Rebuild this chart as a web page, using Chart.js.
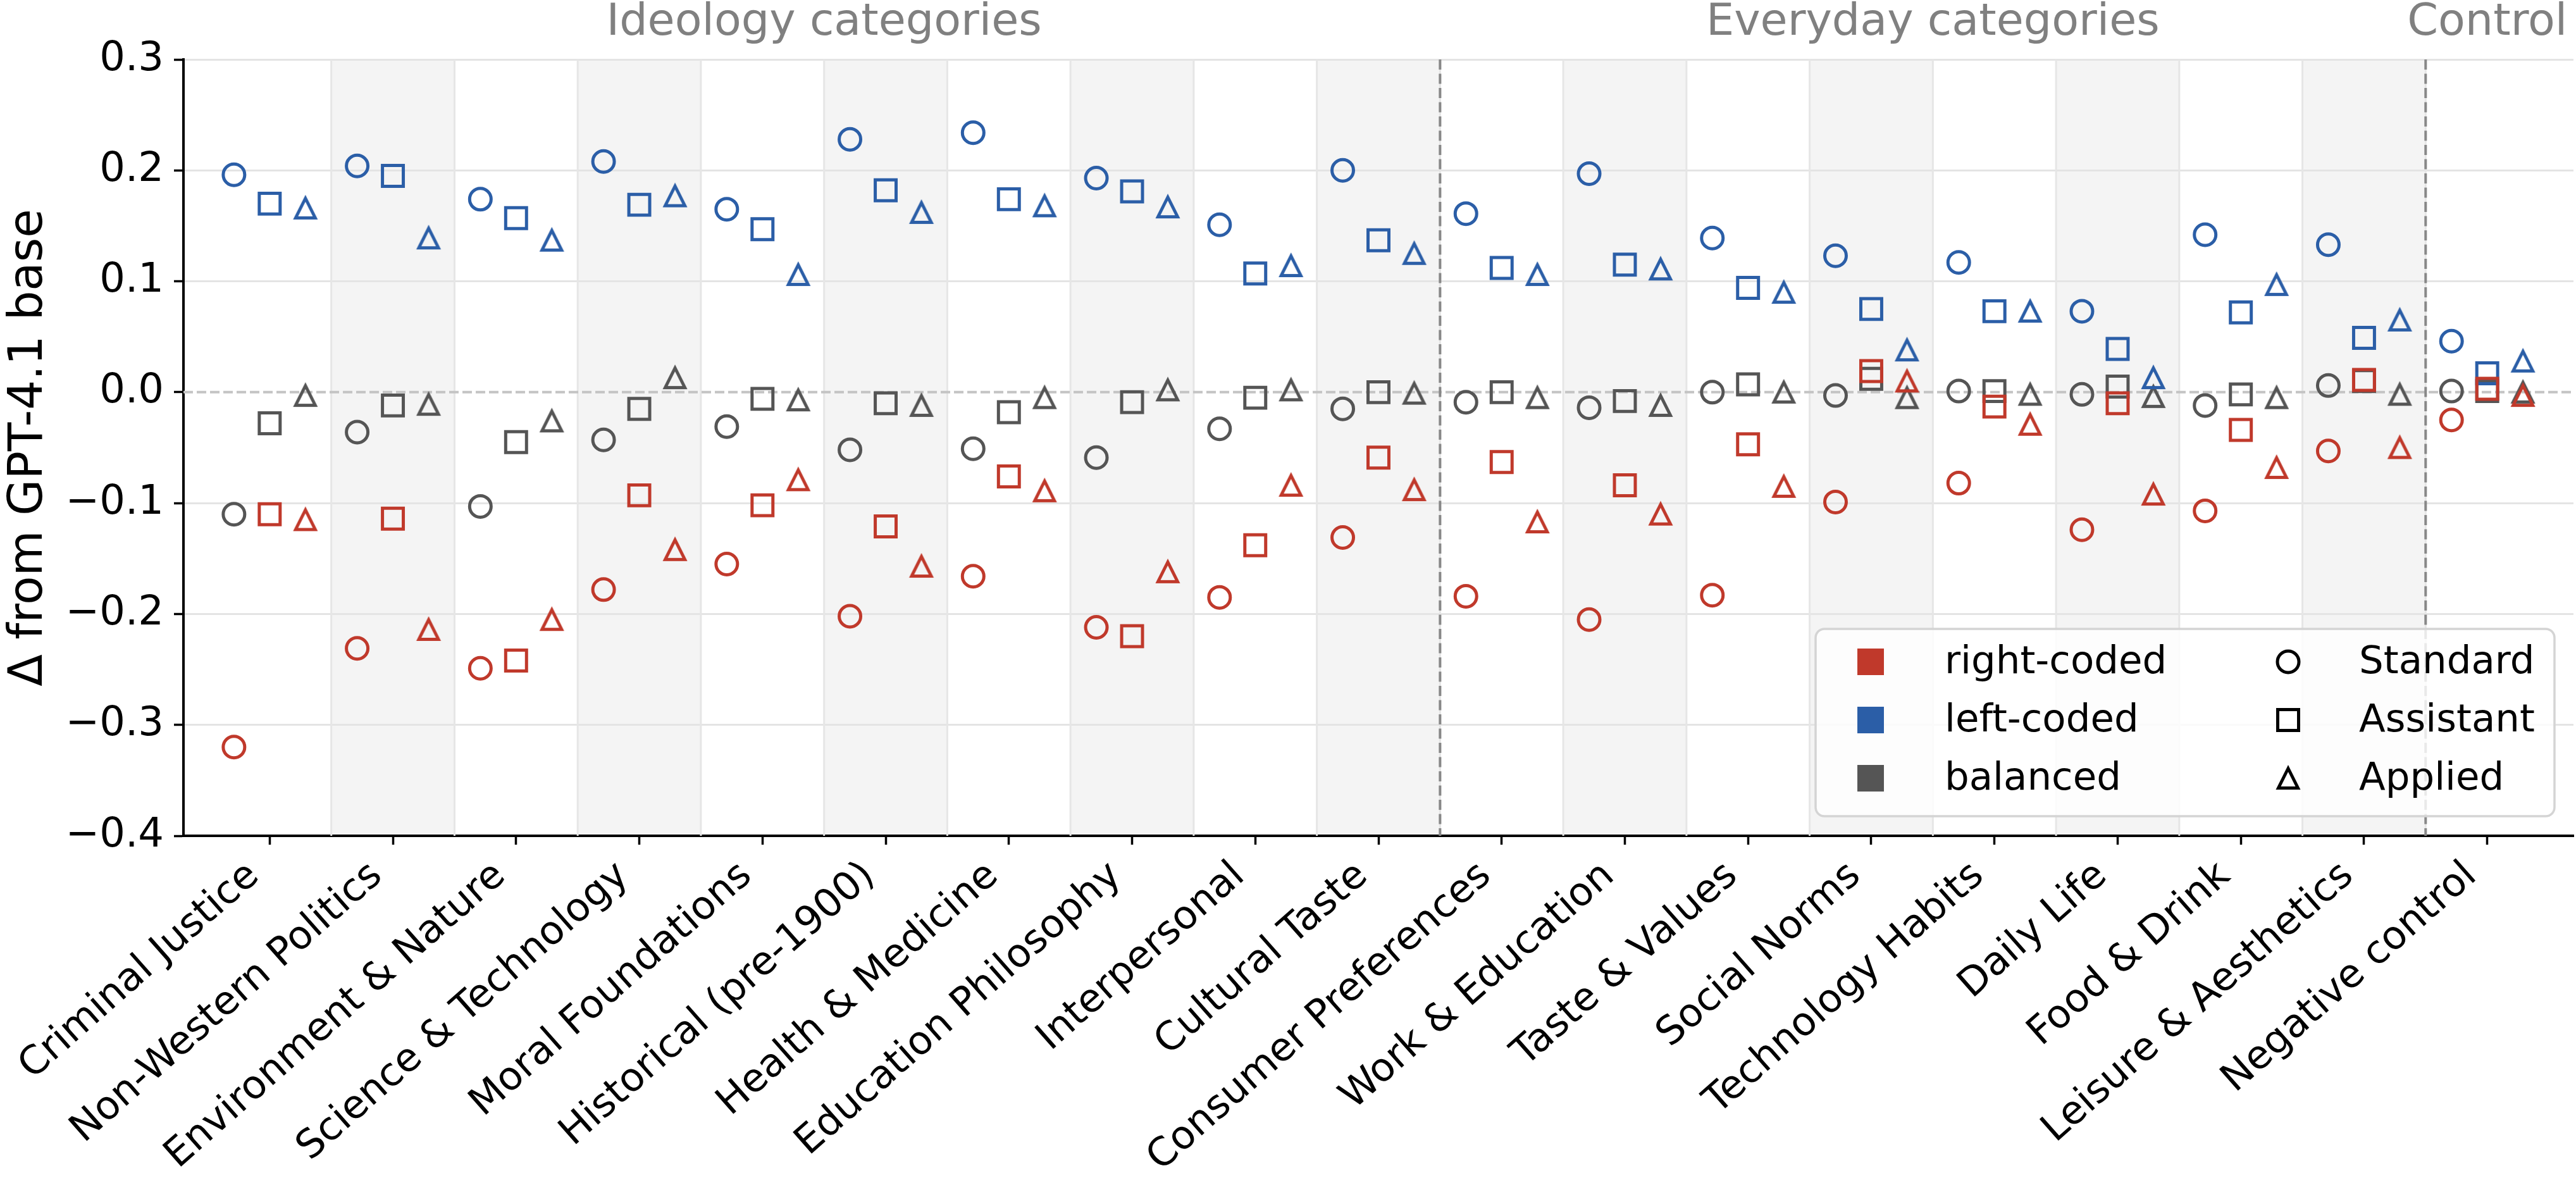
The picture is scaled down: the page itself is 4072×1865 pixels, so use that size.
<!DOCTYPE html>
<html>
<head>
<meta charset="utf-8">
<script src="https://cdn.jsdelivr.net/npm/chart.js@4.4.1/dist/chart.umd.min.js"></script>
<style>
  html, body { margin: 0; padding: 0; background: #ffffff; }
  #wrap { width: 4072px; height: 1865px; }
</style>
</head>
<body>
<div id="wrap"><canvas id="myChart" width="4072" height="1865"></canvas></div>
<script>
var categories = ["Criminal Justice", "Non-Western Politics", "Environment & Nature", "Science & Technology",
  "Moral Foundations", "Historical (pre-1900)", "Health & Medicine", "Education Philosophy", "Interpersonal",
  "Cultural Taste", "Consumer Preferences", "Work & Education", "Taste & Values", "Social Norms",
  "Technology Habits", "Daily Life", "Food & Drink", "Leisure & Aesthetics", "Negative control"];

var groupNames = ["Ideology categories", "Everyday categories", "Control"];
var groupFirst = [0, 10, 18];
var groupLast = [9, 17, 18];

var yTickValues = [-0.4, -0.3, -0.2, -0.1, 0.0, 0.1, 0.2, 0.3];

var seriesNames = ["right-coded", "left-coded", "balanced"];
var styleNames = ["Standard", "Assistant", "Applied"];

var rightStandard = [-0.320, -0.231, -0.249, -0.178, -0.155, -0.202, -0.166, -0.212, -0.185, -0.131, -0.184, -0.205, -0.183, -0.099, -0.082, -0.124, -0.107, -0.053, -0.025];
var rightAssistant = [-0.110, -0.114, -0.242, -0.093, -0.102, -0.121, -0.076, -0.220, -0.138, -0.059, -0.063, -0.084, -0.047, 0.019, -0.013, -0.010, -0.034, 0.011, 0.003];
var rightApplied = [-0.115, -0.214, -0.205, -0.142, -0.079, -0.157, -0.089, -0.162, -0.084, -0.088, -0.117, -0.110, -0.085, 0.010, -0.029, -0.092, -0.068, -0.050, -0.003];

var leftStandard = [0.196, 0.204, 0.174, 0.208, 0.165, 0.228, 0.234, 0.193, 0.151, 0.200, 0.161, 0.197, 0.139, 0.123, 0.117, 0.073, 0.142, 0.133, 0.046];
var leftAssistant = [0.170, 0.195, 0.157, 0.169, 0.147, 0.182, 0.174, 0.181, 0.107, 0.137, 0.112, 0.115, 0.094, 0.075, 0.073, 0.039, 0.072, 0.049, 0.017];
var leftApplied = [0.166, 0.139, 0.137, 0.177, 0.106, 0.162, 0.168, 0.167, 0.114, 0.125, 0.106, 0.111, 0.090, 0.038, 0.073, 0.013, 0.097, 0.065, 0.028];

var balancedStandard = [-0.110, -0.036, -0.103, -0.043, -0.031, -0.052, -0.051, -0.059, -0.033, -0.015, -0.009, -0.014, 0.000, -0.003, 0.001, -0.002, -0.012, 0.006, 0.001];
var balancedAssistant = [-0.028, -0.012, -0.045, -0.015, -0.006, -0.010, -0.018, -0.009, -0.005, 0.000, 0.000, -0.008, 0.007, 0.012, 0.001, 0.005, -0.002, 0.010, 0.001];
var balancedApplied = [-0.003, -0.011, -0.026, 0.013, -0.007, -0.012, -0.005, 0.002, 0.002, -0.001, -0.005, -0.012, 0.000, -0.005, -0.002, -0.004, -0.005, -0.002, 0.000];

var seriesValues = [
  [rightStandard, rightAssistant, rightApplied],
  [leftStandard, leftAssistant, leftApplied],
  [balancedStandard, balancedAssistant, balancedApplied]
];

var seriesColors = ["#c0392b", "#2b5ea7", "#555555"];
var styleOffsets = [-0.29, 0, 0.29];
var markerStroke = 5;

Chart.defaults.font.family = "'DejaVu Sans', sans-serif";
Chart.defaults.color = "#000000";

// matplotlib style "^" marker as an image (chart.js triangle is equilateral)
function makeTriangle(color) {
  var c = document.createElement("canvas");
  c.width = 52;
  c.height = 52;
  var g = c.getContext("2d");
  var h = 15.5;
  g.beginPath();
  g.moveTo(26, 26 - h);
  g.lineTo(26 - h, 26 + h);
  g.lineTo(26 + h, 26 + h);
  g.closePath();
  g.lineJoin = "miter";
  g.lineWidth = markerStroke;
  g.strokeStyle = color;
  g.stroke();
  return c;
}

function markerStyle(styleIndex, color) {
  if (styleIndex == 0) return { pointStyle: "circle", radius: 17 };
  if (styleIndex == 1) return { pointStyle: "rect", radius: 23.3 };
  return { pointStyle: makeTriangle(color), radius: 17 };
}

var datasets = [];
for (var s = 0; s < seriesValues.length; s++) {
  for (var k = 0; k < styleNames.length; k++) {
    var m = markerStyle(k, seriesColors[s]);
    datasets.push({
      label: seriesNames[s] + " / " + styleNames[k],
      data: seriesValues[s][k].map(function (v, i) {
        return { x: i + this.off, y: v };
      }, { off: styleOffsets[k] }),
      pointStyle: m.pointStyle,
      pointRadius: m.radius,
      pointHoverRadius: m.radius,
      pointBorderWidth: markerStroke,
      pointBorderColor: seriesColors[s],
      pointBackgroundColor: "rgba(0,0,0,0)",
      showLine: false
    });
  }
}

function drawLegendMarker(ctx, k, x, y) {
  ctx.save();
  ctx.strokeStyle = "#000000";
  ctx.lineWidth = markerStroke;
  ctx.lineJoin = "miter";
  if (k == 0) {
    ctx.beginPath();
    ctx.arc(x, y, 17, 0, Math.PI * 2);
    ctx.stroke();
  } else if (k == 1) {
    ctx.strokeRect(x - 16.5, y - 16.5, 33, 33);
  } else {
    var t = makeTriangle("#000000");
    ctx.drawImage(t, x - t.width / 2, y - t.height / 2);
  }
  ctx.restore();
}

var decorPlugin = {
  id: "decor",
  beforeDraw: function (chart) {
    var ctx = chart.ctx;
    var area = chart.chartArea;
    var xs = chart.scales.x;
    ctx.save();
    ctx.fillStyle = "#ffffff";
    ctx.fillRect(0, 0, chart.width, chart.height);
    // shaded bands behind every other category
    ctx.fillStyle = "#f4f4f4";
    for (var i = 1; i < categories.length; i += 2) {
      var a = xs.getPixelForValue(i - 0.5);
      var b = xs.getPixelForValue(i + 0.5);
      ctx.fillRect(a, area.top, b - a, area.bottom - area.top);
    }
    ctx.restore();
  },
  beforeDatasetsDraw: function (chart) {
    var ctx = chart.ctx;
    var area = chart.chartArea;
    var xs = chart.scales.x;
    var ys = chart.scales.y;
    ctx.save();
    // thin lines between categories
    ctx.strokeStyle = "#e6e6e6";
    ctx.lineWidth = 3;
    for (var i = 0; i < categories.length - 1; i++) {
      var px = xs.getPixelForValue(i + 0.5);
      ctx.beginPath();
      ctx.moveTo(px, area.top);
      ctx.lineTo(px, area.bottom);
      ctx.stroke();
    }
    // zero line
    var y0 = ys.getPixelForValue(0);
    ctx.strokeStyle = "#c4c4c4";
    ctx.lineWidth = 4;
    ctx.setLineDash([15, 6]);
    ctx.beginPath();
    ctx.moveTo(area.left, y0);
    ctx.lineTo(area.right, y0);
    ctx.stroke();
    // group separators
    ctx.strokeStyle = "#888888";
    ctx.lineWidth = 4;
    ctx.setLineDash([16, 6.5]);
    for (var g = 1; g < groupFirst.length; g++) {
      var sx = xs.getPixelForValue(groupFirst[g] - 0.5);
      ctx.beginPath();
      ctx.moveTo(sx, area.top);
      ctx.lineTo(sx, area.bottom);
      ctx.stroke();
    }
    ctx.restore();
  },
  afterDraw: function (chart) {
    var ctx = chart.ctx;
    var xs = chart.scales.x;
    ctx.save();
    // group titles above the plot
    ctx.fillStyle = "#808080";
    ctx.font = "70px 'DejaVu Sans'";
    ctx.textAlign = "center";
    ctx.textBaseline = "alphabetic";
    for (var g = 0; g < groupNames.length; g++) {
      var cx = xs.getPixelForValue((groupFirst[g] + groupLast[g]) / 2);
      ctx.fillText(groupNames[g], cx, 55);
    }

    // legend box, lower right
    var bx = 2870, by = 994, bw = 1168, bh = 296;
    ctx.beginPath();
    ctx.roundRect(bx, by, bw, bh, 14);
    ctx.fillStyle = "rgba(255,255,255,0.82)";
    ctx.fill();
    ctx.lineWidth = 3.5;
    ctx.strokeStyle = "#d4d4d4";
    ctx.stroke();

    var rows = [1046, 1138, 1230];
    ctx.font = "61px 'DejaVu Sans'";
    ctx.textAlign = "left";
    ctx.textBaseline = "middle";
    for (var r = 0; r < 3; r++) {
      ctx.fillStyle = seriesColors[r];
      ctx.fillRect(2936, rows[r] - 21, 42, 42);
      ctx.fillStyle = "#000000";
      ctx.fillText(seriesNames[r], 3074, rows[r] + 2);
      drawLegendMarker(ctx, r, 3617, rows[r]);
      ctx.fillStyle = "#000000";
      ctx.fillText(styleNames[r], 3729, rows[r] + 2);
    }
    ctx.restore();
  }
};

var ctx = document.getElementById("myChart").getContext("2d");
var myChart = new Chart(ctx, {
  type: "scatter",
  data: { datasets: datasets },
  plugins: [decorPlugin],
  options: {
    responsive: false,
    devicePixelRatio: 1,
    animation: false,
    events: [],
    layout: { autoPadding: false, padding: { top: 94, right: 4, left: 0, bottom: 0 } },
    plugins: {
      legend: { display: false },
      tooltip: { enabled: false }
    },
    scales: {
      x: {
        type: "linear",
        min: -0.7,
        max: 18.7,
        afterBuildTicks: function (scale) {
          scale.ticks = categories.map(function (c, i) { return { value: i }; });
        },
        afterFit: function (scale) {
          scale.height = 544;
          scale.paddingLeft = 0;
          scale.paddingRight = 0;
        },
        ticks: {
          autoSkip: false,
          minRotation: 41.5,
          maxRotation: 41.5,
          padding: 13,
          labelOffset: -25,
          color: "#000000",
          font: { size: 62 },
          callback: function (v) { return categories[Math.round(v)]; }
        },
        grid: {
          drawOnChartArea: false,
          drawTicks: true,
          tickLength: 14,
          tickWidth: 3.5,
          tickColor: "#000000"
        },
        border: { display: true, color: "#000000", width: 4 }
      },
      y: {
        min: -0.4,
        max: 0.3,
        afterBuildTicks: function (scale) {
          scale.ticks = yTickValues.map(function (v) { return { value: v }; });
        },
        afterFit: function (scale) {
          scale.width = 290;
          scale.paddingTop = 0;
          scale.paddingBottom = 0;
        },
        ticks: {
          padding: 16,
          color: "#000000",
          font: { size: 64 },
          callback: function (v) {
            return v.toFixed(1).replace("-", "\u2212");
          }
        },
        grid: {
          color: function (c) {
            if (c.tick && Math.abs(c.tick.value) < 1e-9) return "rgba(0,0,0,0)";
            return "#e4e4e4";
          },
          lineWidth: 3,
          tickLength: 15,
          tickWidth: 3.5,
          tickColor: "#000000"
        },
        border: { display: true, color: "#000000", width: 4 },
        title: {
          display: true,
          text: "\u0394 from GPT-4.1 base",
          color: "#000000",
          font: { size: 74 },
          padding: { top: 2, bottom: 0 }
        }
      }
    }
  }
});
</script>
</body>
</html>
